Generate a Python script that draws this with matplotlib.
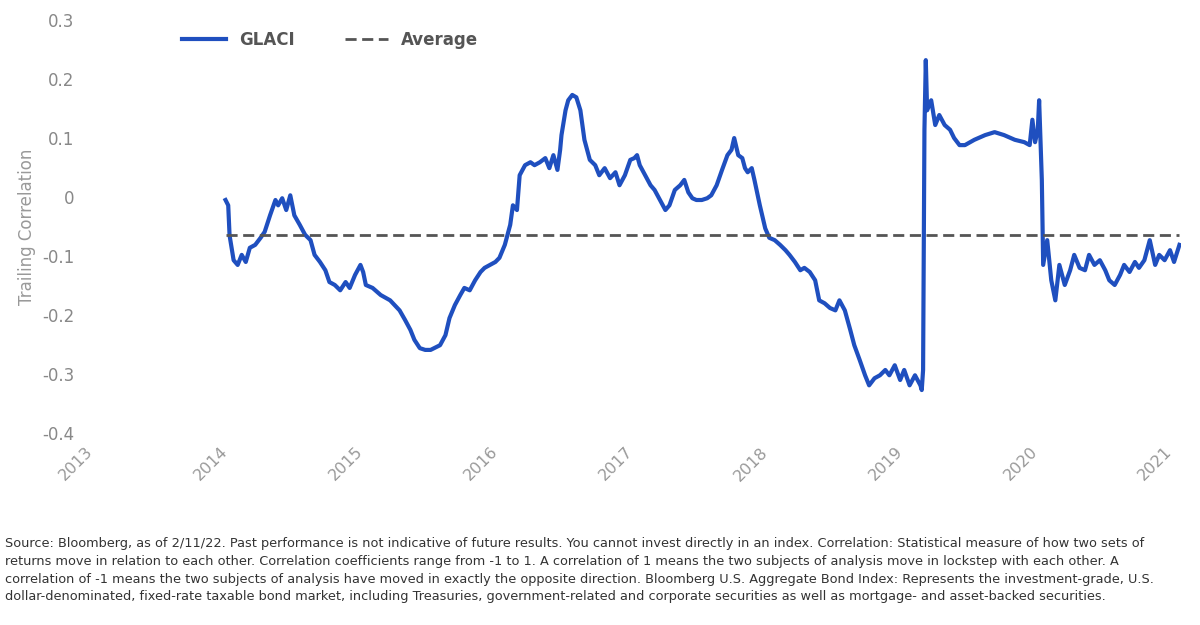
import matplotlib.pyplot as plt

# trailing correlation, GLACI vs US Agg
years = [2014.04, 2014.06, 2014.07, 2014.10, 2014.13, 2014.16, 2014.19, 2014.22, 2014.26, 2014.30,
         2014.33, 2014.37, 2014.41, 2014.43, 2014.46, 2014.49, 2014.52, 2014.55, 2014.59, 2014.63,
         2014.67, 2014.70, 2014.74, 2014.78, 2014.81, 2014.85, 2014.89, 2014.93, 2014.96, 2015.00,
         2015.04, 2015.06, 2015.08, 2015.13, 2015.19, 2015.26, 2015.33, 2015.37, 2015.41, 2015.44,
         2015.48, 2015.52, 2015.56, 2015.63, 2015.67, 2015.70, 2015.74, 2015.78, 2015.81, 2015.85,
         2015.89, 2015.93, 2015.96, 2016.00, 2016.04, 2016.07, 2016.11, 2016.15, 2016.17, 2016.20,
         2016.22, 2016.26, 2016.30, 2016.33, 2016.37, 2016.41, 2016.44, 2016.47, 2016.50, 2016.52,
         2016.53, 2016.56, 2016.58, 2016.61, 2016.64, 2016.67, 2016.70, 2016.74, 2016.78, 2016.81,
         2016.85, 2016.89, 2016.93, 2016.96, 2017.00, 2017.04, 2017.07, 2017.09, 2017.11, 2017.15,
         2017.19, 2017.22, 2017.26, 2017.30, 2017.33, 2017.37, 2017.41, 2017.44, 2017.47, 2017.50,
         2017.53, 2017.57, 2017.61, 2017.64, 2017.68, 2017.72, 2017.76, 2017.79, 2017.81, 2017.84,
         2017.87, 2017.89, 2017.91, 2017.94, 2017.96, 2018.00, 2018.04, 2018.07, 2018.11, 2018.15,
         2018.19, 2018.22, 2018.26, 2018.30, 2018.33, 2018.37, 2018.41, 2018.44, 2018.48, 2018.52,
         2018.56, 2018.59, 2018.63, 2018.67, 2018.70, 2018.74, 2018.78, 2018.81, 2018.85, 2018.89,
         2018.93, 2018.96, 2019.00, 2019.04, 2019.07, 2019.11, 2019.15, 2019.19, 2019.20, 2019.21,
         2019.22, 2019.23, 2019.24, 2019.27, 2019.30, 2019.33, 2019.37, 2019.41, 2019.44, 2019.48,
         2019.52, 2019.59, 2019.67, 2019.74, 2019.81, 2019.89, 2019.96, 2020.00, 2020.02, 2020.04,
         2020.06, 2020.07, 2020.09, 2020.10, 2020.13, 2020.16, 2020.19, 2020.22, 2020.26, 2020.30,
         2020.33, 2020.37, 2020.41, 2020.44, 2020.48, 2020.52, 2020.56, 2020.59, 2020.63, 2020.67,
         2020.70, 2020.74, 2020.78, 2020.81, 2020.85, 2020.89, 2020.93, 2020.96, 2021.00, 2021.04,
         2021.07, 2021.11]
glaci = [-0.005, -0.014, -0.065, -0.107, -0.115, -0.098, -0.110, -0.086, -0.081, -0.069,
         -0.059, -0.031, -0.005, -0.014, -0.002, -0.022, 0.003, -0.031, -0.047, -0.064,
         -0.073, -0.098, -0.110, -0.124, -0.144, -0.149, -0.158, -0.144, -0.154, -0.132,
         -0.115, -0.127, -0.149, -0.154, -0.166, -0.175, -0.192, -0.208, -0.225, -0.242,
         -0.256, -0.259, -0.259, -0.251, -0.234, -0.205, -0.183, -0.166, -0.154, -0.158,
         -0.141, -0.127, -0.120, -0.115, -0.110, -0.103, -0.081, -0.047, -0.014, -0.022,
         0.037, 0.054, 0.059, 0.054, 0.059, 0.066, 0.049, 0.071, 0.046, 0.080,
         0.105, 0.147, 0.164, 0.173, 0.169, 0.147, 0.097, 0.063, 0.054, 0.037,
         0.049, 0.032, 0.042, 0.020, 0.037, 0.063, 0.066, 0.071, 0.054, 0.037,
         0.020, 0.012, -0.005, -0.022, -0.014, 0.012, 0.020, 0.029, 0.008, -0.002,
         -0.005, -0.005, -0.002, 0.003, 0.020, 0.046, 0.071, 0.080, 0.100, 0.071,
         0.066, 0.049, 0.042, 0.049, 0.029, -0.014, -0.053, -0.069, -0.073, -0.081,
         -0.090, -0.098, -0.110, -0.124, -0.120, -0.127, -0.141, -0.175, -0.180, -0.188,
         -0.192, -0.175, -0.192, -0.225, -0.251, -0.276, -0.302, -0.319, -0.307, -0.302,
         -0.293, -0.302, -0.285, -0.310, -0.293, -0.319, -0.302, -0.319, -0.327, -0.293,
         0.114, 0.232, 0.147, 0.164, 0.122, 0.139, 0.122, 0.114, 0.100, 0.088,
         0.088, 0.097, 0.105, 0.110, 0.105, 0.097, 0.093, 0.088, 0.131, 0.093,
         0.114, 0.164, 0.029, -0.115, -0.073, -0.141, -0.175, -0.115, -0.149, -0.124,
         -0.098, -0.120, -0.124, -0.098, -0.115, -0.107, -0.124, -0.141, -0.149, -0.132,
         -0.115, -0.127, -0.110, -0.120, -0.107, -0.073, -0.115, -0.098, -0.107, -0.090,
         -0.110, -0.081]
average = -0.064
xticks = [2013, 2014, 2015, 2016, 2017, 2018, 2019, 2020, 2021]
yticks = [-0.4, -0.3, -0.2, -0.1, 0, 0.1, 0.2, 0.3]

note = ("Source: Bloomberg, as of 2/11/22. Past performance is not indicative of future results. You cannot invest directly in an index. Correlation: Statistical measure of how two sets of\n"
        "returns move in relation to each other. Correlation coefficients range from -1 to 1. A correlation of 1 means the two subjects of analysis move in lockstep with each other. A\n"
        "correlation of -1 means the two subjects of analysis have moved in exactly the opposite direction. Bloomberg U.S. Aggregate Bond Index: Represents the investment-grade, U.S.\n"
        "dollar-denominated, fixed-rate taxable bond market, including Treasuries, government-related and corporate securities as well as mortgage- and asset-backed securities.")

fig = plt.figure(figsize=(12, 6.25), dpi=100)
ax = fig.add_axes([0.071, 0.307, 0.913, 0.661])
ax.plot(years, glaci, color='#1f4fbf', lw=3, label='GLACI')
ax.plot([years[0], years[-1]], [average, average], color='#555555', lw=2,
        ls=(0, (4, 2)), label='Average')
ax.set_xlim(2013, 2021.12)
ax.set_ylim(-0.4, 0.3)
ax.set_xticks(xticks)
ax.set_xticklabels([str(x) for x in xticks], rotation=45, ha='right',
                   rotation_mode='anchor', color='#999999', fontsize=11.5)
ax.set_yticks(yticks)
ax.set_yticklabels(['-0.4', '-0.3', '-0.2', '-0.1', '0', '0.1', '0.2', '0.3'],
                   color='#888888', fontsize=12)
ax.tick_params(length=0, pad=8)
for s in ax.spines.values():
    s.set_visible(False)
ax.set_ylabel('Trailing Correlation', color='#999999', fontsize=12)
leg = ax.legend(loc='upper left', bbox_to_anchor=(0.075, 1.01), ncol=2, frameon=False,
                handlelength=2.6, columnspacing=3, prop={'weight': 'bold', 'size': 12})
for t in leg.get_texts():
    t.set_color('#555555')

fig.text(0.004, 0.14, note, fontsize=9.3, color='#333333', va='top', linespacing=1.45)
plt.savefig('out.png', dpi=100)
